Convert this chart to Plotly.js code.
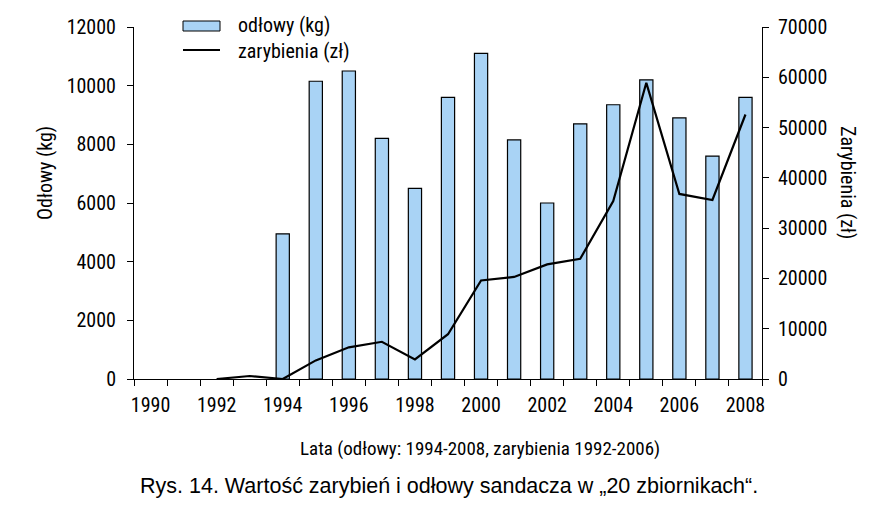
<!DOCTYPE html>
<html>
<head>
<meta charset="utf-8">
<script src="https://cdn.plot.ly/plotly-3.0.1.min.js"></script>
<style>html,body{margin:0;padding:0;background:#fff;}#chart{width:881px;height:516px;}</style>
</head>
<body>
<div id="chart"></div>
<script>
// ---- data ----
const years = [1990,1991,1992,1993,1994,1995,1996,1997,1998,1999,2000,2001,2002,2003,2004,2005,2006,2007,2008];
const odlowyKg = [null,null,null,null,4950,10150,10500,8200,6500,9600,11100,8150,6000,8700,9350,10200,8900,7600,9600];
const zarybieniaZl = [null,null,0,600,0,3700,6300,7400,3900,8900,19600,20300,22800,23900,35400,58900,36800,35600,52600];
const xTickLabels = [1990,1992,1994,1996,1998,2000,2002,2004,2006,2008];
const yLeftTicks = [0,2000,4000,6000,8000,10000,12000];
const yRightTicks = [0,10000,20000,30000,40000,50000,60000,70000];
const seriesNames = ['odłowy (kg)', 'zarybienia (zł)'];
const titleX = 'Lata (odłowy: 1994-2008, zarybienia 1992-2006)';
const caption = 'Rys. 14. Wartość zarybień i odłowy sandacza w „20 zbiornikach“.';
const titleYLeft = 'Odłowy (kg)';
const titleYRight = 'Zarybienia (zł)';

// ---- style ----
const FONT = 'Liberation Sans Narrow, Arial Narrow, Roboto Condensed, sans-serif';
const CAPFONT = 'Liberation Sans, Arial, sans-serif';
const FS = 20;
const BARCOL = '#a9d3f5';

const boundaries = [];
for (let i = 0; i <= years.length; i++) boundaries.push(years[0] - 0.5 + i);

const traces = [
  {type:'bar', x: years, y: odlowyKg, name: seriesNames[0], width: 0.4,
   marker:{color: BARCOL, line:{color:'#000', width:1.2}}, yaxis:'y', showlegend:false},
  {type:'scatter', mode:'lines', x: years, y: zarybieniaZl, name: seriesNames[1],
   line:{color:'#000', width:2.2}, yaxis:'y2', showlegend:false, connectgaps:false}
];

const L = 134, R = 762, T = 27, B = 379;
const W = R - L, H = B - T;
const px = v => (v - L) / W;
const py = v => (B - v) / H;

const layout = {
  width: 881, height: 516,
  margin: {l: L, r: 881 - R, t: T, b: 516 - B},
  paper_bgcolor: '#fff', plot_bgcolor: '#fff',
  font: {family: FONT, size: FS, color: '#000'},
  showlegend: false,
  bargap: 0,
  xaxis: {
    type: 'linear', range: [years[0] - 0.5, years[years.length-1] + 0.5],
    tickmode: 'array', tickvals: xTickLabels, ticktext: xTickLabels.map(String),
    ticks: '', showgrid: false, zeroline: false,
    showline: true, linecolor: '#000', linewidth: 1,
    ticklabelstandoff: 8,
    minor: {tickmode: 'array', tickvals: boundaries, ticks: 'outside', ticklen: 6, tickcolor: '#000', tickwidth: 1, showgrid: false},
    tickfont: {family: FONT, size: FS}
  },
  yaxis: {
    range: [0, 12000], tickmode: 'array', tickvals: yLeftTicks, ticktext: yLeftTicks.map(String),
    ticks: 'outside', ticklen: 6, tickcolor: '#000', showgrid: false, zeroline: false,
    showline: true, linecolor: '#000', linewidth: 1, ticklabelstandoff: 7,
    tickfont: {family: FONT, size: FS}
  },
  yaxis2: {
    range: [0, 70000], tickmode: 'array', tickvals: yRightTicks, ticktext: yRightTicks.map(String),
    overlaying: 'y', side: 'right',
    ticks: 'outside', ticklen: 6, tickcolor: '#000', showgrid: false, zeroline: false,
    showline: true, linecolor: '#000', linewidth: 1, ticklabelstandoff: 5,
    tickfont: {family: FONT, size: FS}
  },
  shapes: [
    {type:'rect', xref:'paper', yref:'paper', x0: px(183), x1: px(220), y0: py(31), y1: py(21),
     fillcolor: BARCOL, line:{color:'#000', width:1}},
    {type:'line', xref:'paper', yref:'paper', x0: px(183), x1: px(220), y0: py(50), y1: py(50),
     line:{color:'#000', width:2.2}}
  ],
  annotations: [
    {xref:'paper', yref:'paper', x: px(236), y: py(25), xanchor:'left', yanchor:'middle', showarrow:false,
     text: seriesNames[0], font:{family: FONT, size: FS}},
    {xref:'paper', yref:'paper', x: px(236), y: py(51), xanchor:'left', yanchor:'middle', showarrow:false,
     text: seriesNames[1], font:{family: FONT, size: FS}},
    {xref:'paper', yref:'paper', x: px(45), y: py(173), xanchor:'center', yanchor:'middle', showarrow:false,
     text: titleYLeft, textangle: -90, font:{family: FONT, size: FS}},
    {xref:'paper', yref:'paper', x: px(848), y: py(182), xanchor:'center', yanchor:'middle', showarrow:false,
     text: titleYRight, textangle: 90, font:{family: FONT, size: FS}},
    {xref:'paper', yref:'paper', x: px(480), y: py(448), xanchor:'center', yanchor:'middle', showarrow:false,
     text: titleX, font:{family: FONT, size: 19}},
    {xref:'paper', yref:'paper', x: px(449), y: py(486), xanchor:'center', yanchor:'middle', showarrow:false,
     text: caption, font:{family: CAPFONT, size: 21.5}}
  ]
};

Plotly.newPlot('chart', traces, layout, {displayModeBar: false, staticPlot: true});
</script>
</body>
</html>
